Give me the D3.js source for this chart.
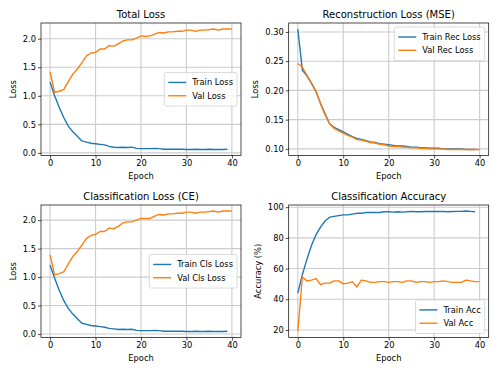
<!DOCTYPE html>
<html>
<head>
<meta charset="utf-8">
<script src="https://cdn.jsdelivr.net/npm/d3@7"></script>
<style>
  body { margin: 0; background: #fff; }
  svg { display: block; font-family: "DejaVu Sans", sans-serif; }
</style>
</head>
<body>
<svg id="chart" width="498" height="374"></svg>
<script>
// values (train: epochs 0-39, val: epochs 0-40)
var trainLoss = [1.24, 1.0, 0.8, 0.62, 0.47, 0.37, 0.29, 0.21, 0.19, 0.17, 0.16, 0.15, 0.14, 0.115, 0.10, 0.095, 0.10, 0.095, 0.10, 0.08,
                 0.075, 0.075, 0.075, 0.08, 0.075, 0.065, 0.065, 0.065, 0.065, 0.065, 0.06, 0.06, 0.065, 0.06, 0.06, 0.065, 0.06, 0.06, 0.06, 0.065];
var valLoss = [1.42, 1.06, 1.08, 1.11, 1.25, 1.38, 1.47, 1.58, 1.70, 1.75, 1.76, 1.82, 1.82, 1.88, 1.87, 1.91, 1.96, 1.98, 1.98, 2.01,
               2.05, 2.04, 2.05, 2.08, 2.11, 2.10, 2.12, 2.12, 2.13, 2.13, 2.15, 2.15, 2.13, 2.15, 2.15, 2.16, 2.17, 2.15, 2.17, 2.17, 2.17];

var trainRec = [0.305, 0.235, 0.225, 0.212, 0.198, 0.178, 0.160, 0.143, 0.137, 0.133, 0.129, 0.125, 0.121, 0.118, 0.116, 0.114, 0.112, 0.111, 0.109, 0.108,
                0.107, 0.106, 0.105, 0.105, 0.104, 0.103, 0.103, 0.102, 0.102, 0.101, 0.101, 0.101, 0.100, 0.100, 0.100, 0.100, 0.100, 0.099, 0.099, 0.099];
var valRec = [0.246, 0.240, 0.226, 0.213, 0.199, 0.177, 0.158, 0.143, 0.135, 0.131, 0.127, 0.123, 0.120, 0.116, 0.115, 0.113, 0.111, 0.110, 0.108, 0.107,
              0.105, 0.104, 0.104, 0.103, 0.103, 0.102, 0.102, 0.101, 0.101, 0.100, 0.100, 0.100, 0.100, 0.099, 0.099, 0.099, 0.099, 0.099, 0.099, 0.099, 0.099];

var trainCls = [1.21, 0.98, 0.77, 0.59, 0.45, 0.35, 0.27, 0.19, 0.17, 0.15, 0.14, 0.13, 0.12, 0.10, 0.09, 0.08, 0.085, 0.08, 0.085, 0.065,
                0.06, 0.06, 0.06, 0.065, 0.06, 0.05, 0.05, 0.05, 0.05, 0.05, 0.045, 0.045, 0.05, 0.045, 0.045, 0.05, 0.045, 0.045, 0.045, 0.05];
var valCls = [1.39, 1.04, 1.06, 1.09, 1.23, 1.36, 1.45, 1.56, 1.68, 1.73, 1.75, 1.80, 1.80, 1.86, 1.85, 1.89, 1.95, 1.97, 1.97, 2.00,
              2.03, 2.03, 2.03, 2.07, 2.10, 2.09, 2.11, 2.11, 2.12, 2.12, 2.14, 2.14, 2.12, 2.14, 2.14, 2.15, 2.16, 2.14, 2.16, 2.16, 2.16];

var trainAcc = [44, 56, 66, 75, 82, 87, 91, 93.5, 94, 94.5, 95, 95, 95.5, 96, 96, 96.5, 96.5, 96.5, 96.5, 97,
                97, 96.8, 97, 96.8, 97, 97.3, 97, 97, 97.2, 97.2, 97.3, 97.2, 97.3, 97, 97.2, 97.3, 97.3, 97.5, 97.3, 97];
var valAcc = [19, 54.5, 52, 52.5, 53.5, 49.5, 50.5, 50.5, 52, 52, 50, 50.5, 51.5, 48, 52.5, 52, 51, 51, 51.5, 51.5,
              51, 51.5, 51.5, 51, 52, 52, 51, 51.5, 51.5, 51, 51.5, 51.5, 52, 51.5, 51, 51, 51, 52.5, 52, 51.5, 51.5];

var xTicks = [0, 10, 20, 30, 40];

var panels = [
  {title: "Total Loss", ylabel: "Loss", series: [trainLoss, valLoss], names: ["Train Loss", "Val Loss"],
   yTicks: [0, 0.5, 1.0, 1.5, 2.0], fmt: ".1f", legend: "center right", x: 41, y: 23, labX: -27.5},
  {title: "Reconstruction Loss (MSE)", ylabel: "Loss", series: [trainRec, valRec], names: ["Train Rec Loss", "Val Rec Loss"],
   yTicks: [0.10, 0.15, 0.20, 0.25, 0.30], fmt: ".2f", legend: "upper right", x: 288.7, y: 23, labX: -33.5},
  {title: "Classification Loss (CE)", ylabel: "Loss", series: [trainCls, valCls], names: ["Train Cls Loss", "Val Cls Loss"],
   yTicks: [0, 0.5, 1.0, 1.5, 2.0], fmt: ".1f", legend: "center right", x: 41, y: 205, labX: -27.5},
  {title: "Classification Accuracy", ylabel: "Accuracy (%)", series: [trainAcc, valAcc], names: ["Train Acc", "Val Acc"],
   yTicks: [20, 40, 60, 80, 100], fmt: "d", legend: "lower right", x: 288.7, y: 205, labX: -31}
];

var colors = ["#1f77b4", "#ff7f0e"];
var w = 200, h = 132.5;
var svg = d3.select("#chart");

panels.forEach(function (p) {
  var g = svg.append("g").attr("transform", "translate(" + p.x + "," + p.y + ")");

  // matplotlib-style 5% margins
  var all = d3.merge(p.series);
  var lo = d3.min(all), hi = d3.max(all), pad = (hi - lo) * 0.05;
  var x = d3.scaleLinear().domain([-2, 42]).range([0, w]);
  var y = d3.scaleLinear().domain([lo - pad, hi + pad]).range([h, 0]);

  // grid
  g.append("g").selectAll("line").data(xTicks).enter().append("line")
    .attr("x1", function (d) { return x(d); }).attr("x2", function (d) { return x(d); })
    .attr("y1", 0).attr("y2", h)
    .style("stroke", "#cccccc").style("stroke-width", 1.1);
  g.append("g").selectAll("line").data(p.yTicks).enter().append("line")
    .attr("y1", function (d) { return y(d); }).attr("y2", function (d) { return y(d); })
    .attr("x1", 0).attr("x2", w)
    .style("stroke", "#cccccc").style("stroke-width", 1.1);

  // lines
  var line = d3.line().x(function (d, i) { return x(i); }).y(function (d) { return y(d); });
  p.series.forEach(function (s, k) {
    g.append("path").datum(s).attr("d", line)
      .style("fill", "none").style("stroke", colors[k]).style("stroke-width", 1.4)
      .style("stroke-linejoin", "round");
  });

  // axes
  var xAxis = g.append("g").attr("transform", "translate(0," + h + ")")
    .call(d3.axisBottom(x).tickValues(xTicks).tickSize(3).tickPadding(2).tickFormat(d3.format("d")));
  var yAxis = g.append("g")
    .call(d3.axisLeft(y).tickValues(p.yTicks).tickSize(3).tickPadding(2).tickFormat(d3.format(p.fmt)));
  [xAxis, yAxis].forEach(function (a) {
    a.select(".domain").remove();
    a.selectAll("line").style("stroke", "#000").style("stroke-width", 0.7);
    a.selectAll("text").style("font-size", "8.3px").style("font-family", "DejaVu Sans").style("fill", "#000");
  });

  g.append("rect").attr("width", w).attr("height", h)
    .style("fill", "none").style("stroke", "#000").style("stroke-width", 0.7);

  g.append("text").attr("x", w / 2).attr("y", -5).attr("text-anchor", "middle")
    .style("font-size", "10px").text(p.title);
  g.append("text").attr("x", w / 2).attr("y", h + 23.5).attr("text-anchor", "middle")
    .style("font-size", "8.3px").text("Epoch");
  g.append("text").attr("transform", "translate(" + p.labX + "," + (h / 2) + ") rotate(-90)")
    .attr("text-anchor", "middle").attr("dy", "0.35em").style("font-size", "8.3px").text(p.ylabel);

  // legend
  var lg = g.append("g");
  var rowH = 13.3;
  var txt = lg.selectAll("text.lab").data(p.names).enter().append("text").attr("class", "lab")
    .attr("x", 28).attr("y", function (d, i) { return 10 + i * rowH; })
    .attr("dy", "0.35em").style("font-size", "8.3px").text(function (d) { return d; });
  var tw = 0;
  txt.each(function () { tw = Math.max(tw, this.getComputedTextLength()); });
  var lw = 28 + tw + 4, lh = 2 * rowH + 7;
  lg.insert("rect", "text").attr("width", lw).attr("height", lh).attr("rx", 2)
    .style("fill", "#fff").style("fill-opacity", 0.8).style("stroke", "#d0d0d0").style("stroke-width", 0.8);
  lg.selectAll("line.key").data(p.names).enter().append("line").attr("class", "key")
    .attr("x1", 4).attr("x2", 22)
    .attr("y1", function (d, i) { return 10 + i * rowH; }).attr("y2", function (d, i) { return 10 + i * rowH; })
    .style("stroke", function (d, i) { return colors[i]; }).style("stroke-width", 1.4);
  var lx = w - 4 - lw, ly;
  if (p.legend === "upper right") ly = 4;
  else if (p.legend === "lower right") ly = h - 4 - lh;
  else ly = (h - lh) / 2;
  lg.attr("transform", "translate(" + lx + "," + ly + ")");
});
</script>
</body>
</html>
